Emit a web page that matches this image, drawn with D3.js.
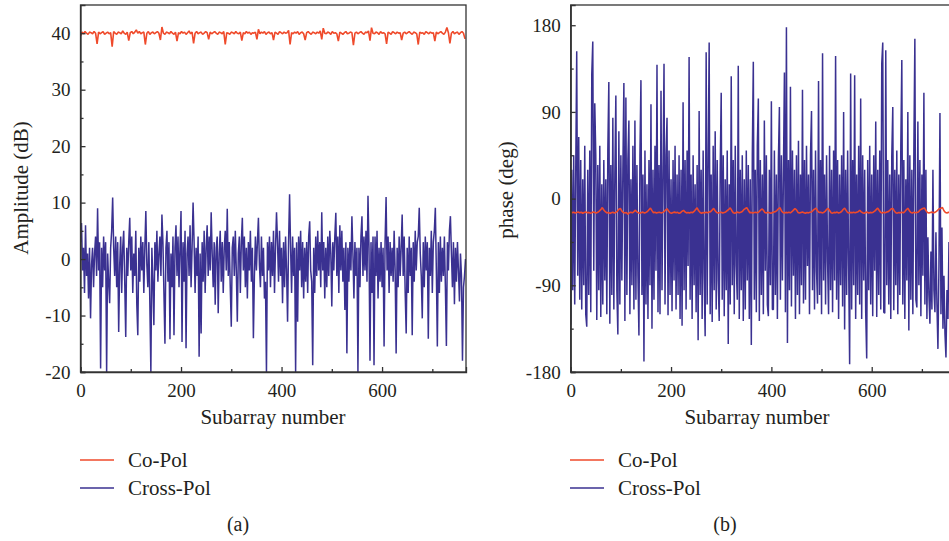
<!DOCTYPE html>
<html>
<head>
<meta charset="utf-8">
<script src="https://cdn.jsdelivr.net/npm/d3@7"></script>
<style>
  body { margin: 0; background: #fff; }
  svg text { font-family: "Liberation Serif", "DejaVu Serif", serif; fill: #231f20; }
  .axis path, .axis line { stroke: #333; stroke-width: 1.3; }
</style>
</head>
<body>
<svg id="chart" width="949" height="541"></svg>
<script>
// Values read off the figure. Co-Pol sampled every 3 subarrays,
// Cross-Pol every 2 subarrays (it swings much more).
const coStep = 3;
const crossStep = 2;

// (a) amplitude, dB
const copolAmp = [
  39.5, 40.2, 39.9, 40.3, 40.0, 39.8, 40.2, 40.1, 39.9, 40.3, 40.0, 38.1,
  40.2, 39.9, 40.1, 40.3, 39.8, 40.0, 40.2, 39.9, 40.1, 37.6,
  40.3, 40.0, 39.8, 40.2, 40.1, 39.9, 40.4, 40.0, 39.8, 40.2, 38.7,
  40.1, 40.3, 39.9, 40.2, 40.6, 40.0, 40.3, 39.9, 40.1, 40.2, 38.0,
  40.0, 40.3, 39.8, 40.1, 40.2, 39.9, 40.1, 40.3, 40.0, 38.8, 41.1,
  40.0, 39.8, 40.2, 40.1, 39.9, 40.3, 40.0, 39.8, 40.2, 38.6,
  40.1, 39.9, 40.3, 40.0, 40.2, 39.8, 40.1, 40.4, 39.9, 40.2, 38.2,
  40.0, 40.3, 39.9, 40.1, 40.2, 39.8, 40.0, 40.3, 40.1, 38.9,
  40.2, 39.9, 40.1, 40.3, 40.0, 39.8, 40.2, 40.1, 39.9, 40.3, 38.0,
  40.1, 40.0, 39.8, 40.2, 40.1, 39.9, 40.3, 40.0, 39.9, 40.2, 38.7,
  40.1, 39.9, 40.3, 40.0, 40.2, 39.8, 40.1, 40.0, 40.2, 38.9, 40.7,
  39.9, 40.2, 40.0, 40.3, 39.8, 40.1, 40.2, 39.9, 40.1, 38.8,
  40.2, 40.0, 39.8, 40.3, 40.1, 39.9, 40.2, 40.0, 40.1, 40.5, 38.0,
  40.1, 39.9, 40.2, 40.0, 40.3, 39.8, 40.1, 40.2, 39.9, 38.8,
  40.1, 40.3, 40.0, 39.8, 40.2, 40.1, 39.9, 40.2, 40.0, 40.4, 38.9, 40.9,
  40.0, 39.9, 40.2, 40.1, 39.8, 40.3, 40.0, 40.1, 39.9, 38.6,
  40.2, 40.0, 39.8, 40.1, 40.3, 39.9, 40.0, 40.2, 40.1, 37.9,
  40.0, 40.2, 39.9, 40.1, 40.3, 40.0, 39.8, 40.2, 40.1, 40.4, 38.7, 41.0,
  40.0, 39.9, 40.2, 40.1, 39.8, 40.3, 40.0, 40.1, 39.9, 38.1,
  40.2, 40.0, 39.8, 40.3, 40.1, 39.9, 40.2, 40.0, 40.1, 38.8,
  40.0, 40.2, 39.9, 40.1, 40.3, 40.0, 39.8, 40.2, 40.1, 39.9, 38.0,
  40.2, 40.0, 40.1, 39.8, 40.3, 40.1, 39.9, 40.2, 40.0, 40.1, 38.6,
  40.2, 39.9, 40.1, 40.3, 40.0, 39.8, 40.2, 41.0, 40.1, 38.2,
  40.0, 40.3, 39.9, 40.1, 40.2, 39.8, 40.1, 40.3, 40.0, 39.0
];
const crossAmp = [
  3, 6.4, -2, 2, -6, 6, -3, 1, -7, 2, -10.5, -1, 2, -5, 1, 4,
  -3, 9, -2, 3, -19.4, 2, -5, 4, -2, 3, -20, 1, -4, -7.8, 2, 5,
  10.9, 2, -3, 4, -5, 3, -12.9, -1, 4, -6, 2, 5, -4, -13.8, 2, -3,
  3, 7.3, -2, 4, -6, 1, -3, 5, -8, -13.5, 2, -4, 4, -2, 3, -6,
  2, 8.5, -1, -5, 3, -8, -20, 2, -4, -11.7, 3, -2, 5, -4, 1, 4,
  -3, 7.9, 3, -6, -15, 2, 5, -4, 3, -14.2, 1, -5, 4, -13.5, 2, 6,
  -3, 4, -5, 2, 8.5, -14.7, 3, -4, 5, -15.8, 1, 4, -3, 6, -5, 2,
  10, 3, -6, 2, -3, 4, -17.3, 1, -13.2, 3, -4, 5, -6, 2, 6, -3,
  4, -2, 8.3, 1, -5, 3, -8.1, 2, 4, -9.6, 1, 5, -4, 3, -6, 2,
  5, -2, 8.9, -3, 3, -5, -12, 2, 4, -3, 5, -2, -11.1, 1, 4, -6,
  3, 7.3, -2, 4, -5, 2, -7, 3, -2, 5, -4, 2, -14, -3, 4, -2,
  3, 7.3, -1, -5, 4, -3, 2, -7, -4, -20, 3, -2, 4, -5, 3, -3,
  5, -6, 2, 8.3, 3, -4, 5, -3, 2, -7.8, 3, -5, 4, -2, -11.1, 3,
  11.5, 2, -6, 4, -3, 2, -20, 3, -11.1, 4, -2, 5, -5, 3, -7, 2,
  -4, 3, -6, 4, 6.7, -2, -4, -18.8, 2, -6, 4, -3, 5, -2, 3, -5,
  8.3, -2, 3, -7, 2, -5, 4, -3, 5, 1, -8.4, 3, -2, 4, 8.2, -3,
  4, -6, 6, -2, 5, -4, 2, -9, 3, -16.7, 2, -4, 3, -2, 7.6, 1,
  -7, 3, -3, 2, -20, 2, -5, 4, 7.6, -3, 4, -2, 5, -4, 11.2, 2,
  -18, 3, -6, 4, -18.8, 4, -3, 5, -7, 2, -4, 3, -5, 2, -15.5, 3,
  11, -2, 4, -6, 3, -3, 2, -4, 5, -2, -16.7, 2, -5, 4, -3, 2,
  7.9, -3, 4, -6, -13.2, 2, -6, 4, -3, 2, -13.5, 3, -4, 5, -2, 3,
  4, 9.1, 1, -3, -10.5, 3, -5, 4, -2, 3, -14.1, 2, -3, 5, -6, 3,
  5, 9.1, -2, -15.5, 3, -6, 4, -4, 2, -3, 4, -5, -15.4, 3, -2, 5,
  7.6, 1, -5, 3, -8, 2, -4, 3, -2, -7.5, 1, -3, -18, -5, -3, 0
];

// (b) phase, deg
const copolPhase = [
  -13.5, -14.6, -14.1, -15.0, -14.4, -13.9, -14.8, -14.2, -15.2, -14.5,
  -14.0, -14.7, -14.3, -15.1, -14.6, -13.8, -14.5, -14.9, -14.2, -13.0,
  -11.5, -9.3, -11.8, -13.6, -14.8, -14.3, -15.4, -14.6, -14.1, -14.9,
  -14.4, -13.2, -11.0, -10.2, -12.9, -14.5, -15.0, -14.3, -16.2, -14.7,
  -14.1, -14.8, -13.5, -12.0, -13.8, -14.6, -15.2, -14.4, -14.0, -14.9,
  -14.3, -13.4, -11.6, -9.8, -12.5, -14.7, -14.2, -15.0, -14.5, -14.1,
  -14.8, -14.3, -13.6, -11.9, -10.5, -12.8, -14.6, -15.1, -14.4, -14.0,
  -14.7, -14.2, -15.3, -14.6, -13.1, -12.2, -13.9, -14.8, -14.3, -14.9,
  -14.1, -14.6, -13.3, -11.4, -9.6, -12.7, -14.5, -15.2, -14.3, -14.8,
  -14.2, -14.7, -14.0, -13.5, -11.8, -10.1, -12.6, -14.4, -15.0, -14.5,
  -14.1, -14.9, -14.3, -13.8, -12.4, -11.1, -9.7, -12.3, -14.6, -15.1,
  -14.4, -14.0, -14.8, -14.2, -13.4, -11.5, -10.3, -9.5, -12.1, -14.7,
  -14.3, -15.0, -14.5, -14.1, -14.8, -13.7, -12.2, -10.8, -11.9, -14.4,
  -14.9, -14.2, -14.6, -15.3, -14.4, -14.0, -13.5, -12.4, -10.6, -9.4,
  -12.5, -14.5, -15.0, -14.3, -14.7, -14.1, -14.8, -13.6, -12.0, -10.4,
  -11.7, -14.3, -14.9, -14.4, -14.0, -14.6, -15.2, -14.3, -14.8, -14.1,
  -13.9, -12.3, -10.9, -10.0, -12.6, -14.5, -14.2, -14.8, -14.4, -13.3,
  -11.2, -10.2, -12.4, -14.6, -15.1, -14.3, -14.7, -14.0, -14.9, -14.4,
  -13.4, -11.3, -9.9, -12.2, -14.5, -15.0, -14.3, -14.7, -14.1, -14.8,
  -14.2, -13.6, -12.1, -13.8, -14.6, -15.2, -14.4, -14.0, -14.9, -14.3,
  -14.7, -14.1, -13.0, -11.4, -9.8, -12.3, -14.5, -14.9, -14.2, -14.6,
  -14.0, -13.5, -12.2, -10.6, -10.2, -12.8, -14.6, -15.1, -14.3, -14.8,
  -14.2, -14.7, -13.4, -11.6, -10.0, -12.5, -14.4, -14.9, -14.1, -14.6,
  -14.3, -13.8, -12.0, -11.1, -10.3, -9.6, -12.4, -14.5, -15.0, -14.4,
  -14.0, -14.7, -14.3, -13.2, -11.8, -10.5, -9.9, -9.2, -12.6, -14.5,
  -14.9, -14.2, -14.6, -14.1, -14.7, -14.4
];
const crossPhase = [
  -131, 30, -95, 45, -110, 25, 153, -80, 64, -105, 40, -115, 20, -90, 55, -120,
  -133, 30, -100, 50, -118, 129, 163, -75, 99, 45, -126, 35, -95, 55, -123, 15,
  -110, 40, -85, 20, -120, 50, 121, -130, 35, -100, 84, -115, 25, 107, -95, -141,
  70, -110, 45, -85, 30, 120, -127, 105, -100, 40, 81, -120, 20, -90, 55, -115,
  81, -105, 35, -80, -142, 45, 123, -100, 25, -169, 50, -110, 15, -125, 40, -90,
  98, -135, 30, -105, 55, -75, 139, -118, 35, -120, 112, -95, 25, 140, -110, 45,
  84, -121, 50, -100, 20, -117, 40, -85, 55, -115, 25, -100, 45, -125, 30, -132,
  100, -95, 40, -115, 50, -70, 147, -105, 25, -125, 45, -90, 15, -118, 35, -147,
  91, -100, 30, -125, 50, -80, -143, 152, -110, 40, 162, -120, 25, -128, 55, -95,
  70, -115, 40, -85, -127, 30, 110, -105, 45, -122, 20, -95, 50, -151, 15, -110,
  127, -90, 40, -120, 55, -70, -105, 138, -125, 30, -95, 45, -127, 20, -115, 50,
  -85, 35, -125, 20, -152, 45, 142, -105, 30, -118, 55, 104, -127, 40, -100, 25,
  -120, 81, -75, 45, -110, -122, 30, -90, 101, -115, -115, 50, -100, 25, -125, 40,
  95, -105, 45, -85, 25, 131, -118, 178, -150, 40, -95, 116, -112, 50, -80, 30,
  -125, 45, -100, 60, -120, 25, -90, 113, -109, 40, -105, 55, -70, 25, -120, 45,
  91, -95, 30, -115, 50, -75, -109, 122, -100, 40, -120, 151, -85, 25, -110, 45,
  -65, -120, 55, -95, 30, -118, 50, -85, 148, -105, 40, -125, 25, -90, 45, -112,
  90, -136, 30, -100, 50, -70, -172, 130, -115, 40, -90, 128, -125, 25, -100, 55,
  -110, 104, -125, 45, -85, 30, -118, -166, 40, -95, 55, -110, 25, -122, 45, -75,
  80, -123, 30, -100, 50, -115, 140, 162, -118, -119, 154, -90, 40, -110, 25, -125,
  45, 95, -116, 30, -90, 50, -120, 25, -100, 55, 144, -110, 40, -125, 20, -85,
  90, -137, 45, -105, 30, -120, 50, 166, -105, -113, 80, -90, 40, -122, 25, -80,
  110, -110, 30, -125, -40, -100, -130, -55, -115, 30, -95, -118, -35, -110, -156, -70,
  89, -120, -30, -135, -80, -140, -165, -95, -125, -45, -130, -100, -118, -75, -115, -90
];

// Axis ticks
const xMajor = [0, 200, 400, 600];
const xMinor = [100, 300, 500, 700];
const ampMajor = [-20, -10, 0, 10, 20, 30, 40];
const ampMinor = [-15, -5, 5, 15, 25, 35];
const phaseMajor = [-180, -90, 0, 90, 180];
const phaseMinor = [-135, -45, 45, 135];

const red = '#ef4a2b';
const blue = '#3a3191';
const fmt = d => String(d); // plain hyphen minus, as in the figure

const svg = d3.select('#chart');

function drawPanel(p) {
  const x = d3.scaleLinear().domain([0, 767]).range([p.left, p.right]);
  const y = d3.scaleLinear().domain(p.yDomain).range([372, 5]);

  const clipId = 'clip-' + p.tag;
  svg.append('clipPath').attr('id', clipId)
    .append('rect')
    .attr('x', p.left).attr('y', 5)
    .attr('width', p.right - p.left).attr('height', 367);

  const lineFor = s => d3.line()
    .x((d, i) => x(i * s))
    .y(d => y(d));

  const g = svg.append('g').attr('clip-path', `url(#${clipId})`);
  g.append('path')
    .attr('d', lineFor(crossStep)(p.cross))
    .attr('fill', 'none')
    .attr('stroke', blue)
    .attr('stroke-width', 1.5)
    .attr('stroke-linejoin', 'bevel');
  g.append('path')
    .attr('d', lineFor(coStep)(p.co))
    .attr('fill', 'none')
    .attr('stroke', red)
    .attr('stroke-width', 1.6)
    .attr('stroke-linejoin', 'bevel');

  // frame
  svg.append('rect')
    .attr('x', p.left).attr('y', 5)
    .attr('width', p.right - p.left).attr('height', 367)
    .attr('fill', 'none')
    .attr('stroke', '#333')
    .attr('stroke-width', 1.3);

  // bottom axis, ticks pointing inward
  svg.append('g').attr('class', 'axis')
    .attr('transform', 'translate(0,372)')
    .call(d3.axisBottom(x).tickValues(xMajor).tickFormat(fmt).tickSize(-5).tickPadding(12))
    .call(a => a.selectAll('text').attr('font-size', 19).attr('fill', '#231f20'));
  svg.append('g').attr('class', 'axis')
    .attr('transform', 'translate(0,372)')
    .call(d3.axisBottom(x).tickValues(xMinor).tickSize(-3).tickFormat(''))
    .call(a => a.select('.domain').remove());

  // left axis
  svg.append('g').attr('class', 'axis')
    .attr('transform', `translate(${p.left},0)`)
    .call(d3.axisLeft(y).tickValues(p.yMajor).tickFormat(fmt).tickSize(-5).tickPadding(10))
    .call(a => a.selectAll('text').attr('font-size', 19).attr('fill', '#231f20'));
  svg.append('g').attr('class', 'axis')
    .attr('transform', `translate(${p.left},0)`)
    .call(d3.axisLeft(y).tickValues(p.yMinor).tickSize(-3).tickFormat(''))
    .call(a => a.select('.domain').remove());

  // axis titles
  svg.append('text')
    .attr('transform', `translate(${p.yTitleX},${p.yTitleY}) rotate(-90)`)
    .attr('text-anchor', 'middle')
    .attr('font-size', 21)
    .text(p.yTitle);
  svg.append('text')
    .attr('x', p.xTitleX).attr('y', 424)
    .attr('text-anchor', 'middle')
    .attr('font-size', 21)
    .text('Subarray number');

  // legend
  const legend = [
    { name: 'Co-Pol', color: red },
    { name: 'Cross-Pol', color: blue }
  ];
  legend.forEach((d, i) => {
    const ly = 460 + i * 28;
    svg.append('line')
      .attr('x1', p.legendX).attr('x2', p.legendX + 34)
      .attr('y1', ly).attr('y2', ly)
      .attr('stroke', d.color).attr('stroke-width', 1.4);
    svg.append('text')
      .attr('x', p.legendX + 48).attr('y', ly + 6.5)
      .attr('font-size', 21)
      .text(d.name);
  });

  svg.append('text')
    .attr('x', p.captionX).attr('y', 531)
    .attr('text-anchor', 'middle')
    .attr('font-size', 20)
    .text(p.caption);
}

drawPanel({
  tag: 'a', left: 80.5, right: 466,
  yDomain: [-20, 45], yMajor: ampMajor, yMinor: ampMinor,
  co: copolAmp, cross: crossAmp,
  yTitle: 'Amplitude (dB)', yTitleX: 28, yTitleY: 188,
  xTitleX: 273, legendX: 80, captionX: 238, caption: '(a)'
});

drawPanel({
  tag: 'b', left: 570.7, right: 955.5,
  yDomain: [-180, 201], yMajor: phaseMajor, yMinor: phaseMinor,
  co: copolPhase, cross: crossPhase,
  yTitle: 'phase (deg)', yTitleX: 513, yTitleY: 190,
  xTitleX: 757, legendX: 570, captionX: 725, caption: '(b)'
});
</script>
</body>
</html>
